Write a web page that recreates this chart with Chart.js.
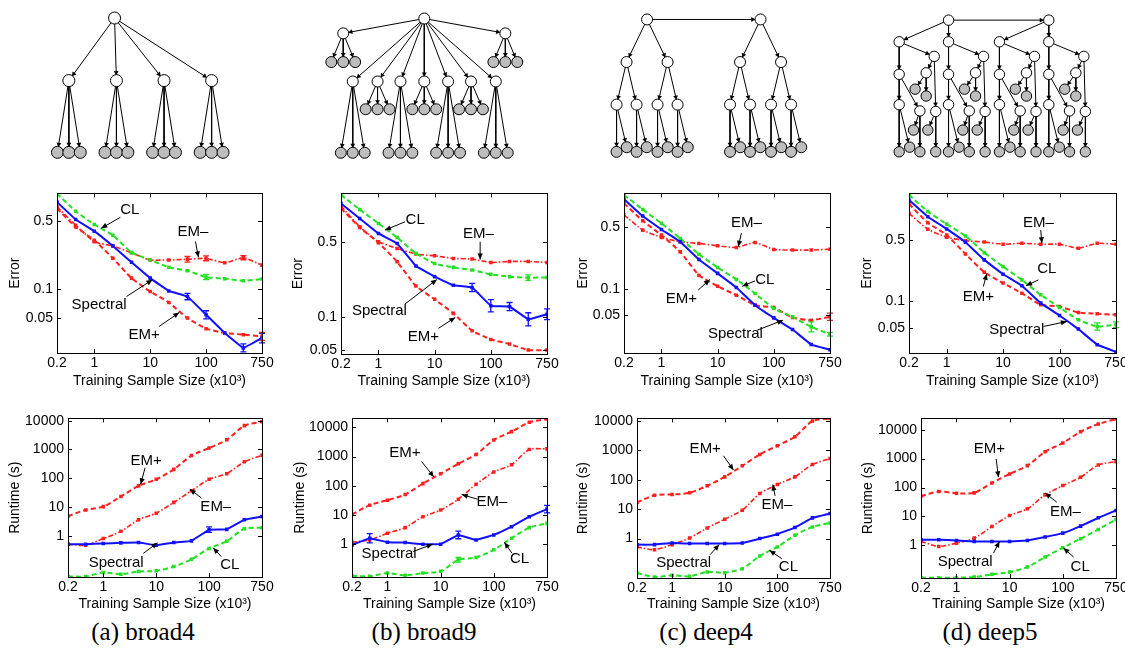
<!DOCTYPE html>
<html lang="en">
<head>
<meta charset="UTF-8" />
<title>Spectral vs EM vs CL – error and runtime</title>
<script src="https://cdn.jsdelivr.net/npm/chart.js"></script>
<style>
  html,body{margin:0;padding:0;background:#fff;}
  body{width:1125px;height:652px;position:relative;overflow:hidden;}
  canvas{position:absolute;}
  .cap{position:absolute;top:618px;line-height:28px;font-family:'Liberation Serif','Times New Roman',serif;font-size:25px;color:#000;white-space:nowrap;transform:translateX(-50%);}
</style>
</head>
<body>
<div class="cap" style="left:143px">(a) broad4</div>
<div class="cap" style="left:424px">(b) broad9</div>
<div class="cap" style="left:706px">(c) deep4</div>
<div class="cap" style="left:990px">(d) deep5</div>

<script>
/* ---------- x categories and ticks ---------- */
const sizes = [0.2, 0.5, 1, 2, 5, 10, 20, 50, 100, 200, 500, 750];   // x10^3 samples
const xTickLabels = ['0.2', '1', '10', '100', '750'];
const errTicks = [0.05, 0.1, 0.5];
const runTicks = [1, 10, 100, 1000, 10000];

/* ---------- error ---------- */
const errA_spec = [0.79, 0.523, 0.396, 0.278, 0.189, 0.130, 0.096, 0.084, 0.0545, 0.0354, 0.0248, 0.0314];
const errA_cl   = [0.966, 0.635, 0.464, 0.36, 0.239, 0.2, 0.168, 0.155, 0.133, 0.128, 0.122, 0.127];
const errA_emP  = [0.677, 0.438, 0.32, 0.208, 0.130, 0.0946, 0.073, 0.0504, 0.0392, 0.0354, 0.034, 0.0327];
const errA_emM  = [0.706, 0.456, 0.308, 0.278, 0.237, 0.2, 0.2, 0.203, 0.208, 0.187, 0.211, 0.177];

const errB_spec = [1.13, 0.82, 0.597, 0.483, 0.298, 0.238, 0.198, 0.189, 0.128, 0.126, 0.096, 0.107];
const errB_cl   = [1.35, 0.995, 0.738, 0.548, 0.39, 0.315, 0.29, 0.274, 0.25, 0.238, 0.233, 0.234];
const errB_emP  = [1.02, 0.678, 0.49, 0.327, 0.195, 0.147, 0.109, 0.0753, 0.0626, 0.0567, 0.0499, 0.0499];
const errB_emM  = [1.07, 0.689, 0.5, 0.434, 0.385, 0.371, 0.351, 0.346, 0.322, 0.329, 0.329, 0.322];

const errC_spec = [1.05, 0.673, 0.474, 0.343, 0.216, 0.150, 0.1035, 0.0651, 0.0467, 0.0344, 0.0232, 0.0203];
const errC_cl   = [1.17, 0.80, 0.556, 0.375, 0.248, 0.175, 0.128, 0.0885, 0.0597, 0.048, 0.0369, 0.0304];
const errC_emP  = [0.939, 0.596, 0.409, 0.264, 0.143, 0.107, 0.0847, 0.0651, 0.0612, 0.0471, 0.0439, 0.048];
const errC_emM  = [0.691, 0.466, 0.385, 0.343, 0.329, 0.309, 0.296, 0.337, 0.281, 0.276, 0.276, 0.283];

const errD_spec = [1.42, 0.919, 0.667, 0.471, 0.297, 0.204, 0.151, 0.0958, 0.0694, 0.0486, 0.0323, 0.0267];
const errD_cl   = [1.62, 1.05, 0.758, 0.555, 0.359, 0.249, 0.176, 0.119, 0.0855, 0.062, 0.0521, 0.0544];
const errD_emP  = [1.28, 0.785, 0.570, 0.347, 0.215, 0.162, 0.124, 0.0917, 0.0877, 0.075, 0.0725, 0.0706];
const errD_emM  = [1.0, 0.661, 0.536, 0.491, 0.474, 0.447, 0.458, 0.447, 0.447, 0.403, 0.458, 0.447];

/* ---------- runtime (s) ---------- */
const runA_spec = [0.518, 0.518, 0.546, 0.575, 0.59, 0.479, 0.59, 0.674, 1.65, 1.69, 3.63, 4.72];
const runA_cl   = [0.0393, 0.0393, 0.0539, 0.0472, 0.0583, 0.0615, 0.0865, 0.154, 0.368, 0.656, 1.78, 1.93];
const runA_emP  = [4.85, 8.0, 10.4, 23.5, 54.6, 92, 204, 615, 1125, 2170, 6740, 9240];
const runA_emM  = [0.518, 0.479, 0.81, 1.445, 3.63, 6.15, 14.6, 36.8, 92.4, 144.6, 373, 631];

const runB_spec = [0.95, 1.6, 1.17, 1.14, 1.0, 1.0, 2.08, 1.40, 2.08, 3.98, 8.71, 15.9];
const runB_cl   = [0.0839, 0.0796, 0.103, 0.086, 0.103, 0.118, 0.293, 0.352, 0.642, 1.6, 3.69, 5.17];
const runB_emP  = [10.5, 21.7, 32.1, 50, 118.5, 259, 567, 1177, 3710, 7130, 14800, 19200];
const runB_emM  = [1.17, 1.40, 2.37, 3.69, 8.71, 14.7, 34.7, 112, 295, 525, 1740, 1830];

const runC_spec = [0.624, 0.624, 0.711, 0.676, 0.676, 0.676, 0.711, 1.0, 1.41, 2.37, 5.07, 7.11];
const runC_cl   = [0.0675, 0.0493, 0.0562, 0.052, 0.0731, 0.0693, 0.0949, 0.257, 0.52, 1.3, 2.5, 3.42];
const runC_emP  = [16.9, 30, 31.6, 36, 62.4, 126, 300, 731, 1443, 2920, 10000, 12300];
const runC_emM  = [0.52, 0.42, 0.624, 1.05, 2.31, 4.56, 9.25, 34.2, 69.3, 126, 333, 533];

const runD_spec = [1.57, 1.57, 1.49, 1.37, 1.37, 1.37, 1.49, 1.94, 2.66, 4.64, 9.0, 16.1];
const runD_cl   = [0.0767, 0.0767, 0.0767, 0.081, 0.1, 0.12, 0.179, 0.396, 0.831, 1.70, 3.56, 7.88];
const runD_emP  = [50.2, 72.8, 63.8, 65.5, 145, 296, 574, 1740, 3470, 8530, 15700, 23300];
const runD_emM  = [1.37, 0.924, 1.2, 1.79, 4.52, 10.8, 18.4, 55.9, 117, 227, 605, 788];

/* ---------- visible error bars: [series, index, relative half width] ---------- */
const barsErrA = [['spec',7,0.08],['spec',8,0.1],['spec',10,0.1],['spec',11,0.12],['emM',7,0.07],['emM',8,0.06],['emM',10,0.05],['cl',8,0.06],['emP',11,0.1]];
const barsErrB = [['spec',7,0.09],['spec',8,0.14],['spec',9,0.09],['spec',10,0.15],['spec',11,0.12],['cl',10,0.06]];
const barsErrC = [['cl',10,0.14],['cl',11,0.05],['emP',11,0.1]];
const barsErrD = [['cl',10,0.1],['cl',11,0.08]];
const barsRunA = [['spec',8,0.25]];
const barsRunB = [['spec',1,0.45],['spec',6,0.35],['spec',11,0.35],['cl',6,0.2]];

/* ---------- labels with arrows: [text, label x,y, arrow from x,y, arrow to x,y] (data units) ---------- */
const notesErrA = [['CL',3.91,0.664,3.40,0.55,2.37,0.424],['EM–',7.29,0.392,7.43,0.309,7.59,0.213],
                   ['Spectral',2.26,0.069,3.73,0.084,5.12,0.125],['EM+',4.67,0.0339,5.48,0.0413,6.56,0.0575]];
const notesErrB = [['CL',3.96,0.79,3.42,0.766,2.35,0.641],['EM–',7.34,0.597,7.43,0.5,7.43,0.343],
                   ['Spectral',2.05,0.115,3.42,0.133,5.12,0.224],['EM+',4.40,0.0663,5.2,0.0792,6.1,0.1]];
const notesErrC = [['EM–',6.54,0.565,6.27,0.43,6.1,0.301],['CL',7.52,0.128,6.99,0.123,6.31,0.107],
                   ['EM+',3.07,0.0776,3.96,0.0966,4.58,0.128],['Spectral',5.95,0.031,7.11,0.0338,8.5,0.044]];
const notesErrD = [['EM–',6.88,0.772,7.0,0.649,7.06,0.458],['CL',7.32,0.233,6.88,0.176,6.22,0.151],
                   ['EM+',3.69,0.114,3.95,0.148,4.13,0.206],['Spectral',5.73,0.0477,7.15,0.0521,8.39,0.0593]];
const notesRunA = [['EM+',4.43,414,4.37,232,4.12,62.2],['EM–',8.38,10.4,7.57,20.6,6.91,42],
                   ['Spectral',2.73,0.119,4.27,0.248,5.07,0.575],['CL',9.17,0.0986,8.7,0.19,8.23,0.388]];
const notesRunB = [['EM+',2.98,1340,3.92,681,4.62,200],['EM–',7.89,28.2,7.08,34.7,6.19,50],
                   ['Spectral',2.09,0.469,3.45,0.563,4.55,1],['CL',9.45,0.317,9.02,0.494,8.6,1.17]];
const notesRunC = [['EM+',3.89,1170,4.93,658,5.5,214],['EM–',7.97,13.7,7.87,28.5,7.74,69.3],
                   ['Spectral',2.66,0.152,4.17,0.285,4.69,0.624],['CL',8.63,0.108,8.25,0.208,7.55,0.4]];
const notesRunD = [['EM+',3.86,2150,4.24,975,4.37,227],['EM–',8.14,14.1,7.66,31.2,7.0,65.5],
                   ['Spectral',2.49,0.266,4.09,0.544,4.43,1.37],['CL',8.98,0.179,8.61,0.396,8.04,0.81]];

/* ---------- styles ---------- */
const FONT = "'Liberation Sans', Arial, Helvetica, sans-serif";
Chart.defaults.font.family = FONT;
const SERIES = [
  {key:'spec', color:'#1010ff', dash:[],          width:2,   order:0},
  {key:'cl',   color:'#22e022', dash:[5,3],       width:2,   order:1},
  {key:'emP',  color:'#ff1f1f', dash:[5,3],       width:2,   order:2},
  {key:'emM',  color:'#ff1f1f', dash:[5,2,1.5,2], width:1.6, order:3}
];
const xTickIdx = xTickLabels.map(l => sizes.indexOf(parseFloat(l)));

/* ---------- panel layout: box = [left, top, right, bottom] of plot area ---------- */
const panels = [
  {box:[57,193,262,353],  titleX:15,  xTitleY:382, yTitle:'Error', ticks:errTicks, range:[0.022,0.97], tension:0.15,
   data:{spec:errA_spec, cl:errA_cl, emP:errA_emP, emM:errA_emM}, bars:barsErrA, notes:notesErrA},
  {box:[341,193,547,354], titleX:298, xTitleY:382, yTitle:'Error', ticks:errTicks, range:[0.0459,1.40], tension:0.15,
   data:{spec:errB_spec, cl:errB_cl, emP:errB_emP, emM:errB_emM}, bars:barsErrB, notes:notesErrB},
  {box:[624,193,830,353], titleX:583, xTitleY:382, yTitle:'Error', ticks:errTicks, range:[0.0186,1.22], tension:0.15,
   data:{spec:errC_spec, cl:errC_cl, emP:errC_emP, emM:errC_emM}, bars:barsErrC, notes:notesErrC},
  {box:[909,193,1116,353],titleX:867, xTitleY:382, yTitle:'Error', ticks:errTicks, range:[0.026,1.69], tension:0.15,
   data:{spec:errD_spec, cl:errD_cl, emP:errD_emP, emM:errD_emM}, bars:barsErrD, notes:notesErrD},
  {box:[68,418,262,577],  titleX:15,  xTitleY:605, yTitle:'Runtime (s)', ticks:runTicks, range:[0.0376,12000], tension:0.25,
   data:{spec:runA_spec, cl:runA_cl, emP:runA_emP, emM:runA_emM}, bars:barsRunA, notes:notesRunA},
  {box:[352,418,547,577], titleX:300, xTitleY:605, yTitle:'Runtime (s)', ticks:runTicks, range:[0.0755,20200], tension:0.25,
   data:{spec:runB_spec, cl:runB_cl, emP:runB_emP, emM:runB_emM}, bars:barsRunB, notes:notesRunB},
  {box:[637,418,830,578], titleX:583, xTitleY:605, yTitle:'Runtime (s)', ticks:runTicks, range:[0.0456,12300], tension:0.25,
   data:{spec:runC_spec, cl:runC_cl, emP:runC_emP, emM:runC_emM}, bars:[], notes:notesRunC},
  {box:[921,418,1116,578],titleX:868, xTitleY:605, yTitle:'Runtime (s)', ticks:runTicks, range:[0.0748,24600], tension:0.25,
   data:{spec:runD_spec, cl:runD_cl, emP:runD_emP, emM:runD_emM}, bars:[], notes:notesRunD}
];

/* ---------- helpers ---------- */
function makeCanvas(left, top, w, h){
  const c = document.createElement('canvas');
  c.width = w; c.height = h;
  c.style.left = left + 'px'; c.style.top = top + 'px';
  c.style.width = w + 'px'; c.style.height = h + 'px';
  document.body.appendChild(c);
  return c;
}

function drawArrow(ctx, x1, y1, x2, y2){
  ctx.beginPath(); ctx.moveTo(x1, y1); ctx.lineTo(x2, y2); ctx.stroke();
  const a = Math.atan2(y2 - y1, x2 - x1), L = 6, W = 2.6;
  ctx.beginPath();
  ctx.moveTo(x2, y2);
  ctx.lineTo(x2 - L*Math.cos(a) + W*Math.sin(a), y2 - L*Math.sin(a) - W*Math.cos(a));
  ctx.lineTo(x2 - L*Math.cos(a) - W*Math.sin(a), y2 - L*Math.sin(a) + W*Math.cos(a));
  ctx.closePath(); ctx.fill();
}

// box with inward ticks on all four sides (matlab look)
const framePlugin = {
  id:'frame',
  afterDraw(chart){
    const {ctx, chartArea:a, scales:{x, y}} = chart;
    ctx.save();
    ctx.strokeStyle = '#000'; ctx.lineWidth = 1;
    ctx.strokeRect(Math.round(a.left)+0.5, Math.round(a.top)+0.5, Math.round(a.right-a.left), Math.round(a.bottom-a.top));
    ctx.beginPath();
    x.ticks.forEach(t => {
      const px = Math.round(x.getPixelForValue(t.value)) + 0.5;
      ctx.moveTo(px, a.bottom); ctx.lineTo(px, a.bottom - 4);
      ctx.moveTo(px, a.top);    ctx.lineTo(px, a.top + 4);
    });
    y.ticks.forEach(t => {
      const py = Math.round(y.getPixelForValue(t.value)) + 0.5;
      ctx.moveTo(a.left, py);  ctx.lineTo(a.left + 4, py);
      ctx.moveTo(a.right, py); ctx.lineTo(a.right - 4, py);
    });
    ctx.stroke();
    ctx.restore();
  }
};

const barPlugin = {
  id:'ebar',
  afterDatasetsDraw(chart, args, opts){
    const {ctx, scales:{x, y}} = chart;
    ctx.save();
    ctx.lineWidth = 1.3;
    opts.bars.forEach(([key, i, e]) => {
      const s = SERIES.find(q => q.key === key);
      const v = opts.data[key][i];
      const px = x.getPixelForValue(i);
      const y1 = y.getPixelForValue(v * (1 + e)), y2 = y.getPixelForValue(v / (1 + e));
      ctx.strokeStyle = s.color;
      ctx.beginPath();
      ctx.moveTo(px, y1); ctx.lineTo(px, y2);
      ctx.moveTo(px - 3, y1); ctx.lineTo(px + 3, y1);
      ctx.moveTo(px - 3, y2); ctx.lineTo(px + 3, y2);
      ctx.stroke();
    });
    ctx.restore();
  }
};

const notePlugin = {
  id:'notes',
  afterDraw(chart, args, opts){
    const {ctx, scales:{x, y}} = chart;
    ctx.save();
    ctx.fillStyle = '#000'; ctx.strokeStyle = '#000'; ctx.lineWidth = 1;
    ctx.font = '15px ' + FONT;
    ctx.textAlign = 'center'; ctx.textBaseline = 'middle';
    opts.notes.forEach(n => {
      ctx.fillText(n[0], x.getPixelForValue(n[1]), y.getPixelForValue(n[2]));
      drawArrow(ctx, x.getPixelForValue(n[3]), y.getPixelForValue(n[4]), x.getPixelForValue(n[5]), y.getPixelForValue(n[6]));
    });
    ctx.restore();
  }
};

/* ---------- plots ---------- */
function plotChart(p){
  const lh = 14 * 1.2;
  const cvLeft = Math.round(p.titleX - lh/2);
  const cvTop = p.box[1] - 12;
  const cvRight = p.box[2] + 16;
  const cvBottom = Math.round(p.xTitleY + lh/2);
  const cv = makeCanvas(cvLeft, cvTop, cvRight - cvLeft, cvBottom - cvTop);
  const yW = p.box[0] - cvLeft, xH = cvBottom - p.box[3];
  const tickFont = {size:14};

  new Chart(cv, {
    type:'line',
    data:{datasets: SERIES.map(s => ({
      label:s.key,
      data:p.data[s.key].map((v, i) => ({x:i, y:v})),
      borderColor:s.color, backgroundColor:s.color,
      borderWidth:s.width, borderDash:s.dash, order:s.order,
      tension: s.key === 'spec' ? 0.05 : p.tension,
      pointStyle:'rect', pointRadius:2.5, pointBorderWidth:0,
      pointBackgroundColor:s.color
    }))},
    options:{
      responsive:false, animation:false, events:[],
      layout:{padding:{top:p.box[1]-cvTop, right:cvRight-p.box[2], left:0, bottom:0}},
      plugins:{
        legend:{display:false}, tooltip:{enabled:false},
        ebar:{bars:p.bars, data:p.data},
        notes:{notes:p.notes}
      },
      scales:{
        x:{
          type:'linear', min:0, max:sizes.length - 1,
          grid:{display:false, drawTicks:false}, border:{display:false},
          afterBuildTicks: sc => { sc.ticks = xTickIdx.map(v => ({value:v})); },
          ticks:{font:tickFont, color:'#000', padding:2, autoSkip:false, maxRotation:0,
                 callback: v => xTickLabels[xTickIdx.indexOf(v)] || ''},
          title:{display:true, text:'Training Sample Size (x10³)', font:tickFont, color:'#000', padding:0},
          afterFit: sc => { sc.height = xH; }
        },
        y:{
          type:'logarithmic', min:p.range[0], max:p.range[1],
          grid:{display:false, drawTicks:false}, border:{display:false},
          afterBuildTicks: sc => { sc.ticks = p.ticks.map(v => ({value:v})); },
          ticks:{font:tickFont, color:'#000', padding:4, autoSkip:false, callback: v => String(v)},
          title:{display:true, text:p.yTitle, font:tickFont, color:'#000', padding:0},
          afterFit: sc => { sc.width = yW; }
        }
      }
    },
    plugins:[barPlugin, framePlugin, notePlugin]
  });
}
panels.forEach(plotChart);

/* ---------- model trees (node layout in page pixels) ---------- */
function addNode(list, parent, x, y, obs){ list.push({parent, x, y, obs:!!obs}); return list.length - 1; }

// (a) broad4: root, 4 hidden children, 3 observed leaves each
const treeA = [];
const ra = addNode(treeA, -1, 113, 12);
[65, 115, 165, 215].forEach(cx => {
  const c = addNode(treeA, ra, cx, 80);
  [-12, 0, 12].forEach(d => addNode(treeA, c, cx + d, 158, true));
});

// (b) broad9: root, 9 hidden children, 3 observed leaves each
const treeB = [];
const rb = addNode(treeB, -1, 424, 13);
[[339, 29, 60], [509, 29, 60], [349, 81, 158], [375, 81, 111], [399, 81, 158], [424, 81, 111],
 [449, 81, 158], [473, 81, 111], [499, 81, 158]].forEach(([cx, cy, ly]) => {
  const c = addNode(treeB, rb, cx, cy);
  [-12.5, 0, 12.5].forEach(d => addNode(treeB, c, cx + d, ly, true));
});

// (c) deep4: two chained roots, binary hidden levels, 2 observed leaves per bottom node
const treeC = [];
const rc1 = addNode(treeC, -1, 644, 14);
const rc2 = addNode(treeC, rc1, 763, 14);
[rc1, rc2].forEach(r => {
  const rx = treeC[r].x;
  [-21.5, 21.5].forEach(d1 => {
    const h1 = addNode(treeC, r, rx + d1, 60);
    [-10.5, 10.5].forEach(d2 => {
      const hx = rx + d1 + d2;
      const h2 = addNode(treeC, h1, hx, 106);
      addNode(treeC, h2, hx, 157, true);
      addNode(treeC, h2, hx + 10.7, 152, true);
    });
  });
});

// (d) deep5: two chained roots, four identical irregular blocks
const treeD = [];
const rd1 = addNode(treeD, -1, 946.7, 15);
const rd2 = addNode(treeD, rd1, 1051.7, 15);
// block template: [parent slot, dx, y, observed]
const blockD = [[-1,0,38.3,0],[0,36.7,54,0],[0,0,73.3,0],[1,28.3,71.7,0],[3,16.7,89.3,1],[3,28.3,96.7,1],
                [2,0,106,0],[2,21.7,112.7,0],[1,38.3,113.3,0],[6,0,156.7,1],[6,11,151.7,1],
                [7,15,133.3,1],[7,21.7,156.7,1],[8,30,133.3,1],[8,38.3,156.7,1]];
[[895, rd1], [946.7, rd1], [1000, rd2], [1051.7, rd2]].forEach(([bx, root]) => {
  const ids = [];
  blockD.forEach(([ps, dx, y, o]) => ids.push(addNode(treeD, ps < 0 ? root : ids[ps], bx + dx, y, o)));
});

function treeChart(nodes, left, width, r){
  const H = 175;
  const cv = makeCanvas(left, 0, width, H);
  const ar = 2.8;
  const edges = [], tips = [], rot = [];
  nodes.forEach(n => {
    if (n.parent < 0) return;
    const p = nodes[n.parent];
    edges.push({
      data:[{x:p.x, y:p.y}, {x:n.x, y:n.y}], showLine:true,
      borderColor:'#000', borderWidth:1, pointRadius:0, order:2
    });
    const dx = n.x - p.x, dy = n.y - p.y, len = Math.hypot(dx, dy);
    tips.push({x:n.x - dx/len*(r + ar), y:n.y - dy/len*(r + ar)});
    rot.push(Math.atan2(dx, -dy) * 180 / Math.PI);
  });
  new Chart(cv, {
    type:'scatter',
    data:{datasets:[
      {data:nodes.map(n => ({x:n.x, y:n.y})), pointRadius:r, pointBorderWidth:1, pointBorderColor:'#000',
       pointBackgroundColor:nodes.map(n => n.obs ? '#bdbdbd' : '#ffffff'), order:0},
      {data:tips, pointStyle:'triangle', pointRadius:ar, pointRotation:rot, pointBorderWidth:0,
       pointBackgroundColor:'#000', order:1},
      ...edges
    ]},
    options:{
      responsive:false, animation:false, events:[],
      layout:{padding:0},
      plugins:{legend:{display:false}, tooltip:{enabled:false}},
      scales:{
        x:{type:'linear', min:left, max:left + width, display:false},
        y:{type:'linear', min:0, max:H, reverse:true, display:false}
      }
    }
  });
}
treeChart(treeA, 0, 290, 6);
treeChart(treeB, 290, 280, 5.5);
treeChart(treeC, 570, 280, 5.5);
treeChart(treeD, 850, 275, 5.2);
</script>
</body>
</html>
